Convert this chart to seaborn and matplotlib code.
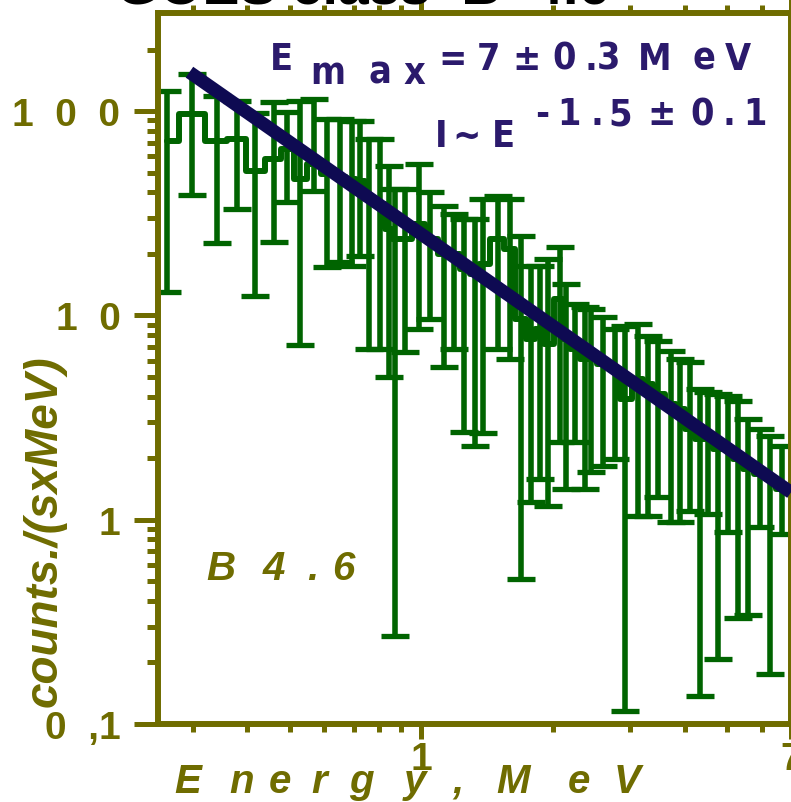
import numpy as np
import pandas as pd
import matplotlib
matplotlib.use("Agg")
import matplotlib.pyplot as plt
import seaborn as sns
from matplotlib.ticker import FixedLocator, FixedFormatter, NullFormatter

# ---------------- data ----------------
energy = [0.2615, 0.2984, 0.3404, 0.3784, 0.4161, 0.4601, 0.4929, 0.5279, 0.5683,
          0.6087, 0.6521, 0.6946, 0.7247, 0.7599, 0.8053, 0.8446, 0.8717, 0.9190,
          0.9895, 1.049, 1.129, 1.190, 1.255, 1.323, 1.380, 1.494, 1.591, 1.687,
          1.778, 1.865, 1.945, 2.073, 2.139, 2.243, 2.365, 2.441, 2.601, 2.771,
          2.922, 3.129, 3.299, 3.477, 3.725, 3.906, 4.118, 4.341, 4.529, 4.775,
          5.033, 5.305, 5.593, 5.959, 6.283, 6.660]
counts = [71.3, 96.7, 71.3, 72.9, 50.9, 58.2, 65.2, 46.5, 55.0,
          49.2, 47.5, 46.5, 45.4, 37.1, 35.1, 26.5, 23.6, 23.6,
          28.0, 23.6, 20.0, 20.0, 16.9, 15.9, 17.8, 23.6, 21.1, 9.6,
          7.66, 8.57, 7.24, 12.0, 7.66, 6.84, 6.11, 6.11, 5.78, 5.46,
          3.89, 4.88, 4.61, 4.12, 3.68, 3.48, 2.78, 2.48, 2.48, 2.22,
          2.22, 1.98, 1.77, 1.67, 1.58, 1.41]
counts_high = [125, 152, 118, 112, 97.8, 111, 98.9, 112, 114.5,
               91.4, 91.4, 89.3, 89.3, 72.9, 72.9, 53.8, 41.5, 41.5,
               55.0, 40.1, 34.3, 31.3, 29.6, 29.6, 37.1, 38.4, 37.1, 24.4,
               17.4, 17.4, 18.9, 21.6, 14.2, 11.4, 11.0, 10.7, 9.81, 8.57,
               8.86, 9.07, 7.92, 7.48, 6.69, 6.11, 5.91, 4.36, 4.21, 4.12,
               4.03, 3.81, 3.11, 2.78, 2.57, 2.29]
counts_low = [13.0, 38.8, 22.6, 33.1, 12.4, 22.9, 35.9, 7.15, 40.6,
              17.2, 18.2, 17.4, 19.5, 6.84, 6.84, 4.99, 0.269, 6.61,
              8.57, 9.59, 5.58, 6.84, 2.69, 2.29, 2.65, 6.84, 6.11, 0.512,
              1.22, 1.58, 1.17, 2.40, 1.41, 2.40, 1.41, 1.71, 1.83, 1.98,
              0.116, 1.04, 1.04, 1.29, 0.973, 0.97, 1.1, 0.137, 1.065, 0.208,
              0.87, 0.33, 0.34, 0.92, 0.175, 0.85]
fit_energy = [0.295, 7.0]
fit_counts = [155.0, 1.36]

x_major = [1, 7]
x_major_labels = ["1", "7"]
x_minor = [0.3, 0.4, 0.5, 0.6, 0.7, 0.8, 0.9, 2, 3, 4, 5, 6]
y_major = [0.1, 1, 10, 100]
y_major_labels = ["0  ,1", "1", "1  0", "1  0  0"]
y_minor = [0.2, 0.3, 0.4, 0.5, 0.6, 0.7, 0.8, 0.9,
           2, 3, 4, 5, 6, 7, 8, 9,
           20, 30, 40, 50, 60, 70, 80, 90, 200]

title_text = "GOES class  B  4.6"
y_label = "counts./(sxMeV)"

# ---------------- style ----------------
OLIVE = "#6f6c00"
GREEN = "#006400"
NAVY = "#0e0a52"
TNAVY = "#2b1a6c"

sns.set_theme(style="white")
plt.rcParams["font.family"] = ["Liberation Sans", "DejaVu Sans"]

W, H = 791, 803
fig = plt.figure(figsize=(W / 100, H / 100), dpi=100)
fig.patch.set_facecolor("white")
ax = fig.add_axes([158 / W, 1 - 725 / H, 1 - 158 / W, (725 - 14) / H])
ax.set_facecolor("white")
ax.set_xscale("log")
ax.set_yscale("log")

df = pd.DataFrame({"E": energy, "I": counts})
sns.lineplot(data=df, x="E", y="I", drawstyle="steps-mid", color=GREEN,
             lw=4.3, ax=ax, zorder=2)
lo = np.array(counts) - np.array(counts_low)
hi = np.array(counts_high) - np.array(counts)
ax.errorbar(energy, counts, yerr=[lo, hi], fmt="none", ecolor=GREEN,
            elinewidth=4.0, capsize=10, capthick=3.8, zorder=2)
sns.lineplot(x=fit_energy, y=fit_counts, color=NAVY, lw=9.5, ax=ax,
             solid_capstyle="butt", zorder=3)

ax.set_xlim(0.25, 7)
ax.set_ylim(0.1, 302)
ax.set_xlabel("")
ax.set_ylabel("")

for s in ax.spines.values():
    s.set_color(OLIVE)
    s.set_linewidth(4.3)
    s.set_visible(True)

ax.xaxis.set_major_locator(FixedLocator(x_major))
ax.xaxis.set_major_formatter(FixedFormatter(x_major_labels))
ax.xaxis.set_minor_locator(FixedLocator(x_minor))
ax.xaxis.set_minor_formatter(NullFormatter())
ax.yaxis.set_major_locator(FixedLocator(y_major))
ax.yaxis.set_major_formatter(FixedFormatter(y_major_labels))
ax.yaxis.set_minor_locator(FixedLocator(y_minor))
ax.yaxis.set_minor_formatter(NullFormatter())

ax.tick_params(which="both", direction="out", color=OLIVE, width=3.6,
               top=True, right=False, bottom=True, left=True)
ax.tick_params(axis="y", which="major", length=17, pad=10)
ax.tick_params(axis="y", which="minor", length=8)
ax.tick_params(axis="x", which="major", length=11, pad=1)
ax.tick_params(axis="x", which="minor", length=6)
for lab in ax.get_xticklabels() + ax.get_yticklabels():
    lab.set_fontsize(28)
    lab.set_fontweight("bold")
    lab.set_color(OLIVE)

# y label
fig.text(45 / W, 1 - 531 / H, y_label, rotation=90, ha="center", va="center",
         fontsize=33, fontweight="bold", fontstyle="italic", color=OLIVE)


def put(items, base_py, **kw):
    for ch, px in items:
        fig.text(px / W, 1 - base_py / H, ch, ha="left", va="baseline", **kw)


narrow = dict(family=["DejaVu Sans"], fontstretch="condensed",
              fontsize=27, fontweight="bold", color=TNAVY)
bi = dict(fontsize=29, fontweight="bold", fontstyle="italic", color=OLIVE)

# x label, letter spaced
put([("E", 174), ("n", 229), ("e", 269), ("r", 311), ("g", 349), ("y", 404),
     (",", 452), ("M", 496), ("e", 568), ("V", 614)], 793, **bi)

# flare class
put([("B", 206), ("4", 263), (".", 307), ("6", 332)], 580, **bi)

# Emax annotation
put([("E", 270), ("=", 438), ("7", 477), ("±", 512), ("0", 552), (".", 585),
     ("3", 597), ("M", 638), ("e", 693), ("V", 725)], 70, **narrow)
put([("m", 310), ("a", 368), ("x", 403)], 84, **narrow)
# power law annotation
put([("I", 435), ("~", 452), ("E", 492)], 147, **narrow)
put([("-", 535), ("1", 557), (".", 590), ("5", 608), ("±", 647), ("0", 690),
     (".", 722), ("1", 743)], 125, **narrow)

# title (cropped at top in the reference)
fig.text(116 / W, 1 - 4 / H, title_text, ha="left", va="baseline", fontsize=40,
         fontweight="bold", color="black")

fig.savefig("out.png", dpi=100, facecolor="white")
